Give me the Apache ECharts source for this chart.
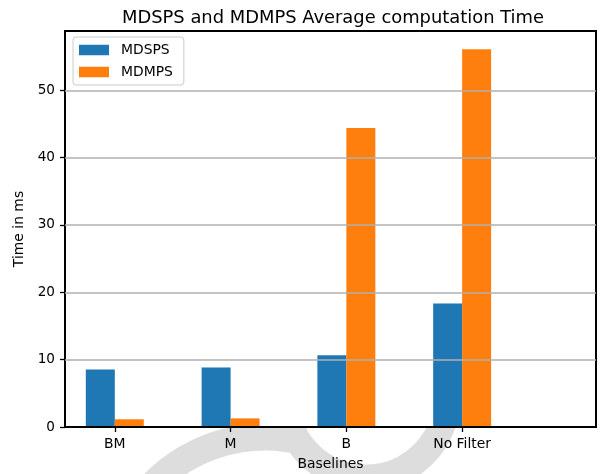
<!DOCTYPE html>
<html>
<head>
<meta charset="utf-8">
<script src="https://cdn.jsdelivr.net/npm/echarts@6/dist/echarts.min.js"></script>
<style>html,body{margin:0;padding:0;background:#fff}#c{width:600px;height:474px}</style>
</head>
<body>
<div id="c"></div>
<script>
const categories = ["BM", "M", "B", "No Filter"];
const mdsps = [8.55, 8.85, 10.65, 18.35];
const mdmps = [1.15, 1.28, 44.4, 56.1];
const yTicks = [0, 10, 20, 30, 40, 50];

const chart = echarts.init(document.getElementById('c'), null, {renderer: 'canvas'});
const font = 'DejaVu Sans';
const barW = 29;

chart.setOption({
  animation: false,
  backgroundColor: '#ffffff',
  title: {
    text: 'MDSPS and MDMPS Average computation Time',
    left: 328, top: 4, textAlign: 'center',
    textStyle: {fontFamily: font, fontSize: 17.9, fontWeight: 'normal', color: '#000'}
  },
  graphic: [
    {type: 'arc', z: -10, silent: true,
     shape: {cx: 265, cy: 593, r: 156, startAngle: Math.PI * 0.95, endAngle: Math.PI * 1.58, clockwise: true},
     style: {fill: 'none', stroke: '#dddddd', lineWidth: 27}},
    {type: 'circle', z: -10, silent: true, shape: {cx: 366, cy: 397, r: 81},
     style: {fill: 'none', stroke: '#dddddd', lineWidth: 27}}
  ],
  grid: {
    left: 65, right: 4, top: 31, bottom: 47,
    outerBoundsMode: 'none', containLabel: false,
    show: true, backgroundColor: '#ffffff', borderColor: '#000', borderWidth: 2, z: 0
  },
  legend: {
    left: 73, top: 37,
    orient: 'vertical',
    itemWidth: 30, itemHeight: 10.5, itemGap: 8,
    padding: [6, 11, 6, 6],
    borderColor: '#cccccc', borderWidth: 1, borderRadius: 3,
    backgroundColor: 'rgba(255,255,255,0.8)',
    icon: 'rect',
    textStyle: {fontFamily: font, fontSize: 13.9, color: '#000', padding: [0, 0, 0, 7]},
    data: ['MDSPS', 'MDMPS']
  },
  xAxis: {
    type: 'value', min: -0.43, max: 4.156, z: 4,
    name: 'Baselines', nameLocation: 'middle', nameGap: 30,
    nameTextStyle: {fontFamily: font, fontSize: 13.9, color: '#000'},
    axisLine: {show: true, onZero: false, lineStyle: {color: '#000', width: 2}},
    axisTick: {show: true, inside: false, length: 5, customValues: [0, 1, 2, 3], lineStyle: {color: '#000', width: 1.3}},
    axisLabel: {customValues: [0, 1, 2, 3], margin: 10, fontFamily: font, fontSize: 13.9, color: '#000',
      formatter: v => categories[Math.round(v)]},
    splitLine: {show: false}
  },
  yAxis: {
    type: 'value', min: 0, max: 58.8, interval: 10, z: 4,
    name: 'Time in ms', nameLocation: 'middle', nameGap: 39, nameRotate: 90,
    nameTextStyle: {fontFamily: font, fontSize: 13.9, color: '#000'},
    axisLine: {show: true, onZero: false, lineStyle: {color: '#000', width: 2}},
    axisTick: {show: true, inside: false, length: 5, lineStyle: {color: '#000', width: 1.3}},
    axisLabel: {showMaxLabel: false, margin: 10, fontFamily: font, fontSize: 13.6, color: '#000'},
    splitLine: {show: false}
  },
  series: [
    {
      name: 'MDSPS', type: 'bar', barWidth: barW, barGap: '-100%',
      itemStyle: {color: '#1f77b4'},
      data: mdsps.map((v, i) => [i - 0.125, v])
    },
    {
      name: 'MDMPS', type: 'bar', barWidth: barW, barGap: '-100%', z: 3,
      itemStyle: {color: '#ff7f0e'},
      data: mdmps.map((v, i) => [i + 0.125, v]),
      markLine: {
        silent: true, symbol: 'none', label: {show: false},
        lineStyle: {color: '#b0b0b0', width: 1.6, type: 'solid'},
        emphasis: {disabled: true},
        data: yTicks.filter(t => t > 0).map(t => ({yAxis: t}))
      }
    }
  ]
});
</script>
</body>
</html>
